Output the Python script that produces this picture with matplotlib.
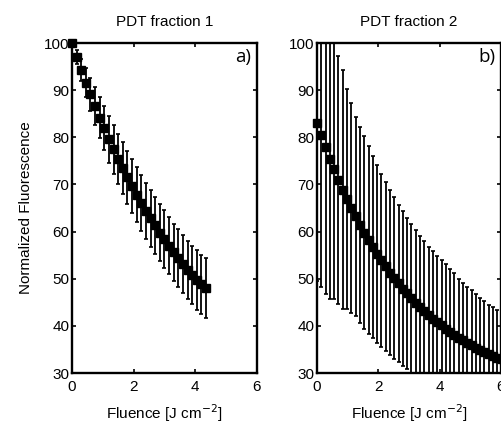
import numpy as np
import matplotlib.pyplot as plt

plt.rcParams['font.family'] = ['Liberation Sans', 'DejaVu Sans']

# panel a) PDT fraction 1
fluence_a = [0.00, 0.15, 0.30, 0.45, 0.60, 0.75, 0.90, 1.05, 1.20, 1.35,
             1.50, 1.65, 1.80, 1.95, 2.10, 2.25, 2.40, 2.55, 2.70, 2.85,
             3.00, 3.15, 3.30, 3.45, 3.60, 3.75, 3.90, 4.05, 4.20, 4.36]
fluor_a = [100.0, 97.1, 94.3, 91.6, 89.1, 86.6, 84.2, 81.9, 79.6, 77.5,
           75.4, 73.4, 71.5, 69.6, 67.8, 66.1, 64.4, 62.8, 61.3, 59.8,
           58.4, 57.0, 55.6, 54.4, 53.1, 51.9, 50.8, 49.7, 48.8, 48.0]
err_a = [0.5, 1.5, 2.3, 3.0, 3.5, 4.0, 4.4, 4.7, 5.0, 5.2,
         5.4, 5.5, 5.6, 5.7, 5.8, 5.9, 5.9, 6.0, 6.0, 6.0,
         6.1, 6.1, 6.1, 6.2, 6.2, 6.2, 6.2, 6.3, 6.3, 6.3]

# panel b) PDT fraction 2
fluence_b = [0.00, 0.14, 0.28, 0.42, 0.56, 0.70, 0.84, 0.98, 1.12, 1.26,
             1.40, 1.54, 1.68, 1.82, 1.96, 2.10, 2.24, 2.38, 2.52, 2.66,
             2.80, 2.94, 3.08, 3.22, 3.36, 3.50, 3.64, 3.78, 3.92, 4.06,
             4.20, 4.34, 4.48, 4.62, 4.76, 4.90, 5.04, 5.18, 5.32, 5.46,
             5.60, 5.74, 5.88, 6.02]
fluor_b = [83.0, 80.4, 77.9, 75.5, 73.2, 71.0, 68.9, 66.9, 65.0, 63.2,
           61.4, 59.8, 58.2, 56.7, 55.3, 53.9, 52.6, 51.3, 50.1, 49.0,
           47.9, 46.9, 45.9, 44.9, 44.0, 43.1, 42.3, 41.5, 40.8, 40.1,
           39.4, 38.7, 38.1, 37.5, 36.9, 36.4, 35.9, 35.4, 34.9, 34.5,
           34.0, 33.6, 33.2, 32.9]
err_b = [33.5, 32.2, 31.1, 29.9, 27.5, 26.3, 25.3, 23.3, 22.3, 21.2,
         20.8, 20.5, 19.9, 19.3, 18.9, 18.3, 17.9, 17.5, 17.2, 16.7,
         16.4, 16.0, 15.8, 15.5, 15.1, 14.8, 14.5, 14.4, 14.0, 13.8,
         13.7, 13.4, 13.1, 12.4, 12.1, 11.9, 11.7, 11.4, 11.1, 10.8,
         10.5, 10.3, 10.1, 9.8]

titles = ['PDT fraction 1', 'PDT fraction 2']
tags = ['a)', 'b)']
xticks = [0, 2, 4, 6]
yticks = [30, 40, 50, 60, 70, 80, 90, 100]

fig = plt.figure(figsize=(5.02, 4.23), dpi=100)
ax_a = fig.add_axes([0.1434, 0.1182, 0.3685, 0.7801])
ax_b = fig.add_axes([0.6315, 0.1182, 0.3665, 0.7801])

panels = [(ax_a, fluence_a, fluor_a, err_a), (ax_b, fluence_b, fluor_b, err_b)]
for i, (ax, x, y, e) in enumerate(panels):
    ax.errorbar(x, y, yerr=e, fmt='none', ecolor='k', elinewidth=1.3,
                capsize=1.4, capthick=1.2)
    ax.plot(x, y, 's', color='k', markersize=5.2, clip_on=False, zorder=3)
    ax.set_xlim(0, 6)
    ax.set_ylim(30, 100)
    ax.set_xticks(xticks)
    ax.set_yticks(yticks)
    ax.tick_params(direction='in', length=3, width=1.2, top=True, right=True,
                   labelsize=11)
    ax.tick_params(axis='x', pad=5)
    ax.tick_params(axis='y', pad=2)
    for s in ax.spines.values():
        s.set_linewidth(1.7)
    ax.set_title(titles[i], fontsize=11, pad=12)
    ax.set_xlabel('Fluence [J cm$^{-2}$]', fontsize=11, labelpad=6)
    ax.text(0.97, 0.985, tags[i], transform=ax.transAxes, ha='right', va='top',
            fontsize=13.5, family=['Open Sans', 'DejaVu Sans'])

ax_a.set_ylabel('Normalized Fluorescence', fontsize=11, labelpad=8)

fig.savefig('out.png', dpi=100)
